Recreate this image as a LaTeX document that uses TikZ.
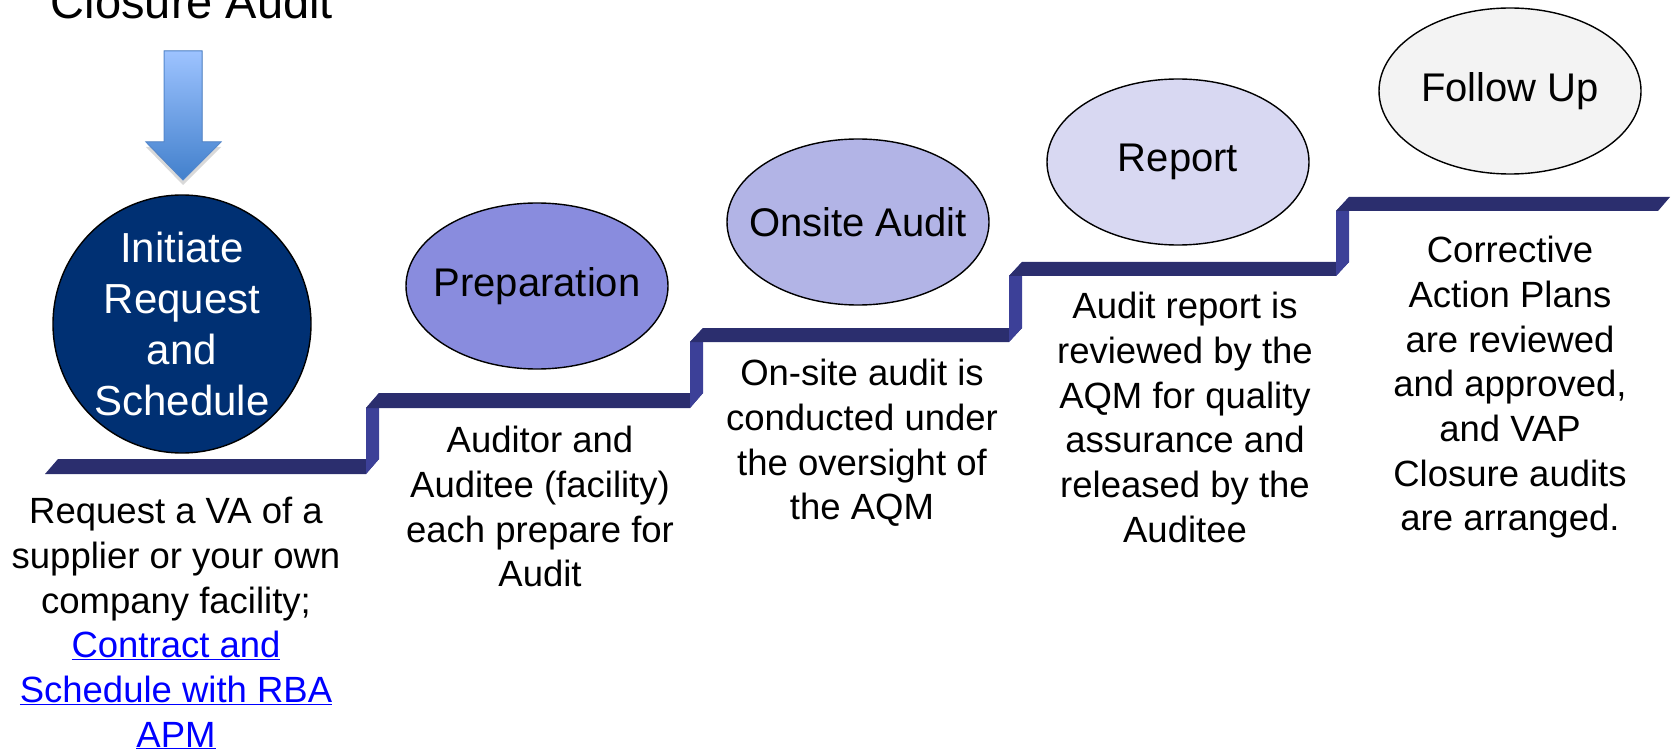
\documentclass[tikz,border=0pt]{standalone}
\usepackage{fontspec}
\setmainfont{Liberation Sans}
\usetikzlibrary{shapes.geometric,shadows}
\definecolor{navy}{RGB}{0,48,115}
\definecolor{treadblue}{RGB}{43,46,110}
\definecolor{riserblue}{RGB}{60,64,152}
\definecolor{prepfill}{RGB}{137,140,222}
\definecolor{onsitefill}{RGB}{178,180,230}
\definecolor{reportfill}{RGB}{216,216,242}
\definecolor{followfill}{RGB}{243,243,243}
\definecolor{linkblue}{RGB}{0,0,255}
\definecolor{arrowtop}{RGB}{157,195,255}
\definecolor{arrowbottom}{RGB}{66,128,204}
\definecolor{arrowline}{RGB}{84,136,205}
\tikzset{
  phase/.style={ellipse,draw=black,line width=1.4pt,minimum width=262pt,
    minimum height=166pt,inner xsep=-30pt,inner ysep=0pt,
    font=\fontsize{40}{48}\selectfont},
  note/.style={anchor=north,align=center,inner sep=0pt,
    font=\fontsize{36.5}{44.7}\selectfont},
  tread/.style={fill=treadblue},
  riser/.style={fill=riserblue}
}
\begin{document}
\begin{tikzpicture}[x=1pt,y=-1pt]
  \useasboundingbox (0,0) rectangle (1675,751);

  \node[anchor=base,inner sep=0pt,font=\fontsize{47}{56}\selectfont]
    (closure) at (192,19) {Closure Audit};
  \filldraw[draw=arrowline,line width=1pt,top color=arrowtop,bottom color=arrowbottom,
    drop shadow={opacity=0.3,shadow xshift=0pt,shadow yshift=-5pt}]
    (164,51) -- (202,51) -- (202,142) -- (221,142) -- (183,180)
    -- (146,142) -- (164,142) -- cycle;

  % the staircase
  \fill[tread] (45,474) -- (58,459) -- (379,459) -- (366,474) -- cycle;
  \fill[riser] (366,474) -- (379,459) -- (379,393) -- (366,408) -- cycle;
  \fill[tread] (366,408) -- (379,393) -- (703,393) -- (690,408) -- cycle;
  \fill[riser] (690,408) -- (703,393) -- (703,328) -- (690,342) -- cycle;
  \fill[tread] (690,342) -- (703,328) -- (1022,328) -- (1009,342) -- cycle;
  \fill[riser] (1009,342) -- (1022,328) -- (1022,262) -- (1009,276) -- cycle;
  \fill[tread] (1009,276) -- (1022,262) -- (1349,262) -- (1336,276) -- cycle;
  \fill[riser] (1336,276) -- (1349,262) -- (1349,197) -- (1336,211) -- cycle;
  \fill[tread] (1336,211) -- (1349,197) -- (1670,197) -- (1658,211) -- cycle;

  \node[circle,draw=black,line width=1.4pt,fill=navy,text=white,minimum size=258pt,
    inner sep=0pt,align=center,font=\fontsize{42}{51}\selectfont]
    (initiate) at (182,324) {Initiate\\Request\\and\\Schedule};
  \node[phase,fill=prepfill] (prep) at (537,286) {Preparation};
  \node[phase,fill=onsitefill] (onsite) at (858,222) {Onsite Audit};
  \node[phase,fill=reportfill] (report) at (1178,162) {Report};
  \node[phase,fill=followfill] (follow) at (1510,91) {Follow Up};

  \node[note] (reqtext) at (176,497) {Request a VA of a\\supplier or your own\\
    company facility;\\{\color{linkblue}\underline{Contract and}}\\
    {\color{linkblue}\underline{Schedule with RBA}}\\{\color{linkblue}\underline{APM}}};
  \node[note] (preptext) at (540,426) {Auditor and\\Auditee (facility)\\
    each prepare for\\Audit};
  \node[note] (onsitetext) at (862,359) {On-site audit is\\conducted under\\
    the oversight of\\the AQM};
  \node[note] (reporttext) at (1185,292) {Audit report is\\reviewed by the\\
    AQM for quality\\assurance and\\released by the\\Auditee};
  \node[note] (followtext) at (1510,236) {Corrective\\Action Plans\\are reviewed\\
    and approved,\\and VAP\\Closure audits\\are arranged.};
\end{tikzpicture}
\end{document}
